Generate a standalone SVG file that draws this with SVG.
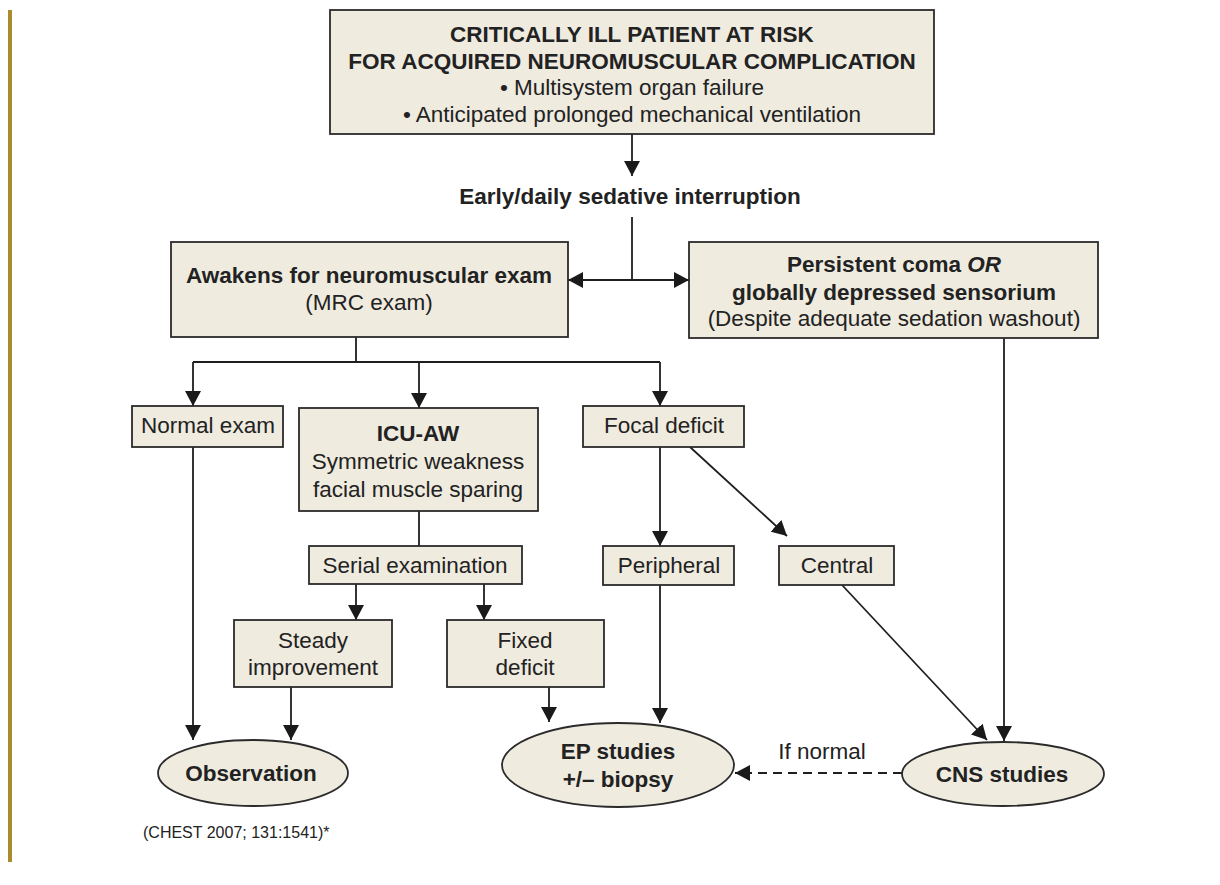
<svg xmlns="http://www.w3.org/2000/svg" width="1220" height="885" viewBox="0 0 1220 885">
  <style>
    .box { fill: #efebdf; stroke: #2b2b2b; stroke-width: 1.8; }
    .ln { fill: none; stroke: #1f1f1f; stroke-width: 1.8; }
    .dash { stroke-dasharray: 9 6; }
    text { font-family: "Liberation Sans", Arial, Helvetica, sans-serif; fill: #222; text-anchor: middle; font-size: 22.5px; }
    .b { font-weight: bold; }
    .cite { text-anchor: start; font-size: 16px; }
  </style>
  <defs>
    <marker id="arrow" viewBox="0 0 15 16" refX="15" refY="8" markerWidth="15" markerHeight="16" markerUnits="userSpaceOnUse" orient="auto">
      <path d="M0,0 L15,8 L0,16 z" fill="#1a1a1a"/>
    </marker>
  </defs>

  <rect width="1220" height="885" fill="#ffffff"/>
  <!-- side rule -->
  <rect x="8" y="10" width="4" height="852" fill="#a98c2c"/>

  <!-- connectors -->
  <g id="connectors">
    <path class="ln" d="M632,134 V176" marker-end="url(#arrow)"/>
    <path class="ln" d="M632,217 V280"/>
    <path class="ln" d="M632,280 H568" marker-end="url(#arrow)"/>
    <path class="ln" d="M632,280 H689" marker-end="url(#arrow)"/>
    <path class="ln" d="M356,337 V362 M193,362 H660"/>
    <path class="ln" d="M193,362 V406" marker-end="url(#arrow)"/>
    <path class="ln" d="M419,362 V408" marker-end="url(#arrow)"/>
    <path class="ln" d="M660,362 V406" marker-end="url(#arrow)"/>
    <path class="ln" d="M193,447 V740" marker-end="url(#arrow)"/>
    <path class="ln" d="M419,511 V546"/>
    <path class="ln" d="M356,584 V620" marker-end="url(#arrow)"/>
    <path class="ln" d="M484,584 V620" marker-end="url(#arrow)"/>
    <path class="ln" d="M291,687 V740" marker-end="url(#arrow)"/>
    <path class="ln" d="M549,687 V722" marker-end="url(#arrow)"/>
    <path class="ln" d="M660,447 V546" marker-end="url(#arrow)"/>
    <path class="ln" d="M690,447 L787,536" marker-end="url(#arrow)"/>
    <path class="ln" d="M660,585 V723" marker-end="url(#arrow)"/>
    <path class="ln" d="M842,585 L987,740" marker-end="url(#arrow)"/>
    <path class="ln" d="M1004,338 V741" marker-end="url(#arrow)"/>
    <path class="ln dash" d="M902,773 H735" marker-end="url(#arrow)"/>
    <text x="822" y="759">If normal</text>
  </g>

  <g id="patient-at-risk">
    <rect class="box" x="330" y="10" width="604" height="124"/>
    <text class="b" x="632" y="42">CRITICALLY ILL PATIENT AT RISK</text>
    <text class="b" x="632" y="69">FOR ACQUIRED NEUROMUSCULAR COMPLICATION</text>
    <text x="632" y="95">• Multisystem organ failure</text>
    <text x="632" y="121.5">• Anticipated prolonged mechanical ventilation</text>
  </g>

  <g id="sedative-interruption">
    <text class="b" x="630" y="204">Early/daily sedative interruption</text>
  </g>

  <g id="awakens">
    <rect class="box" x="171" y="242" width="397" height="95"/>
    <text class="b" x="369" y="283">Awakens for neuromuscular exam</text>
    <text x="369" y="310">(MRC exam)</text>
  </g>

  <g id="persistent-coma">
    <rect class="box" x="689" y="242" width="409" height="96"/>
    <text class="b" x="894" y="272">Persistent coma <tspan font-style="italic">OR</tspan></text>
    <text class="b" x="894" y="300">globally depressed sensorium</text>
    <text x="894" y="326">(Despite adequate sedation washout)</text>
  </g>

  <g id="normal-exam">
    <rect class="box" x="132" y="406" width="151" height="41"/>
    <text x="208" y="433">Normal exam</text>
  </g>

  <g id="icu-aw">
    <rect class="box" x="299" y="408" width="239" height="103"/>
    <text class="b" x="418" y="441">ICU-AW</text>
    <text x="418" y="469">Symmetric weakness</text>
    <text x="418" y="496.5">facial muscle sparing</text>
  </g>

  <g id="focal-deficit">
    <rect class="box" x="583" y="406" width="161" height="41"/>
    <text x="664" y="433">Focal deficit</text>
  </g>

  <g id="serial-examination">
    <rect class="box" x="309" y="546" width="213" height="38"/>
    <text x="415" y="573">Serial examination</text>
  </g>

  <g id="peripheral">
    <rect class="box" x="603" y="546" width="131" height="39"/>
    <text x="669" y="573">Peripheral</text>
  </g>

  <g id="central">
    <rect class="box" x="779" y="546" width="115" height="39"/>
    <text x="837" y="573">Central</text>
  </g>

  <g id="steady-improvement">
    <rect class="box" x="234" y="620" width="158" height="67"/>
    <text x="313" y="648">Steady</text>
    <text x="313" y="674.5">improvement</text>
  </g>

  <g id="fixed-deficit">
    <rect class="box" x="447" y="620" width="157" height="67"/>
    <text x="525" y="648">Fixed</text>
    <text x="525" y="674.5">deficit</text>
  </g>

  <g id="observation">
    <ellipse class="box" cx="253" cy="773" rx="95" ry="33"/>
    <text class="b" x="251" y="781">Observation</text>
  </g>

  <g id="ep-studies">
    <ellipse class="box" cx="618" cy="765" rx="116" ry="42"/>
    <text class="b" x="618" y="759">EP studies</text>
    <text class="b" x="618" y="787">+/– biopsy</text>
  </g>

  <g id="cns-studies">
    <ellipse class="box" cx="1003" cy="774" rx="101" ry="32"/>
    <text class="b" x="1002" y="782">CNS studies</text>
  </g>

  <text class="cite" x="143" y="838">(CHEST 2007; 131:1541)*</text>
</svg>
